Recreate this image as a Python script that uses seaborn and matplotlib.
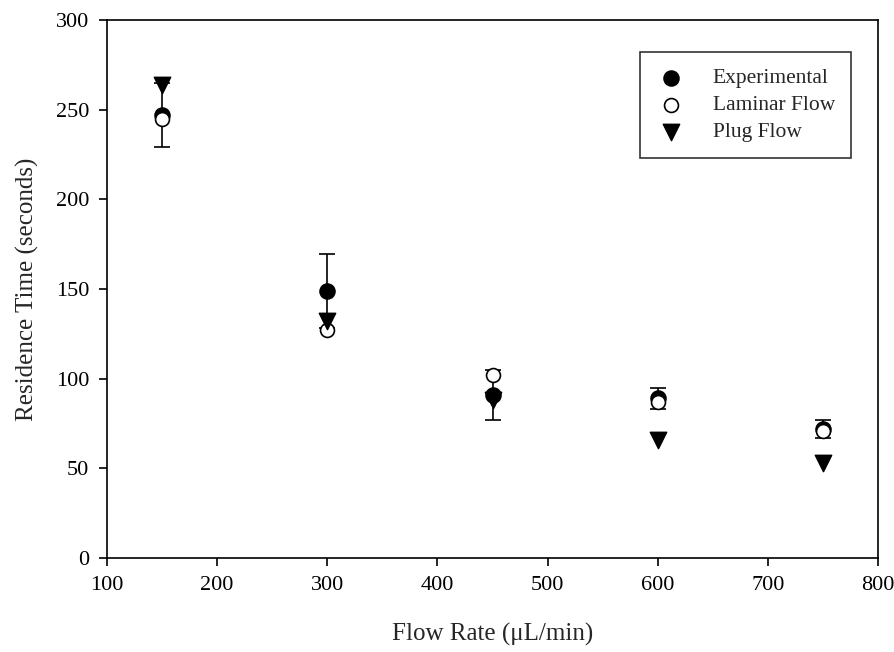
import numpy as np
import pandas as pd
import matplotlib
matplotlib.use('Agg')
import matplotlib.pyplot as plt
import seaborn as sns

# Data
flow_rate = [150, 300, 450, 600, 750]
experimental = [247, 149, 91, 89, 72]
experimental_err = [18, 20.5, 14, 6, 5]
laminar = [245, 127, 102, 87, 71]
plug = [264, 132, 88, 66, 52.8]

sns.set_style('ticks')
plt.rcParams['font.family'] = ['Liberation Serif', 'DejaVu Serif']

fig = plt.figure(figsize=(8.95, 6.52), dpi=100)
ax = fig.add_axes([0.1196, 0.1442, 0.8614, 0.8251])

# Error bars for the experimental series
ax.errorbar(flow_rate, experimental, yerr=experimental_err, fmt='none',
            ecolor='black', elinewidth=1.2, capsize=6, capthick=1.2, zorder=1)

df = pd.DataFrame({'flow': flow_rate, 'exp': experimental,
                   'lam': laminar, 'plug': plug})

sns.scatterplot(data=df, x='flow', y='exp', ax=ax, marker='o', s=115,
                color='black', edgecolor='black', linewidth=1.2,
                label='Experimental', zorder=2)
sns.scatterplot(data=df, x='flow', y='lam', ax=ax, marker='o', s=100,
                facecolor='white', edgecolor='black', linewidth=1.2,
                label='Laminar Flow', zorder=3)
sns.scatterplot(data=df, x='flow', y='plug', ax=ax, marker='v', s=140,
                color='black', edgecolor='black', linewidth=1.0,
                label='Plug Flow', zorder=4)

ax.set_xlim(100, 800)
ax.set_ylim(0, 300)
ax.set_xticks(range(100, 801, 100))
ax.set_yticks(range(0, 301, 50))
ax.tick_params(axis='both', direction='out', length=6, width=1.2,
               labelsize=16, colors='black', pad=7)
for side in ['left', 'bottom', 'top', 'right']:
    ax.spines[side].set_visible(True)
    ax.spines[side].set_color('black')
    ax.spines[side].set_linewidth(1.2)
ax.tick_params(top=False, right=False)

ax.set_xlabel('Flow Rate (\u03bcL/min)', fontsize=18, labelpad=20)
ax.set_ylabel('Residence Time (seconds)', fontsize=18, labelpad=12)

leg = ax.legend(loc='upper right', bbox_to_anchor=(0.965, 0.9405), fontsize=15.5,
                frameon=True, fancybox=False, edgecolor='black',
                borderpad=0.75, handlelength=1.3, handletextpad=1.3,
                labelspacing=0.32, borderaxespad=0)
leg.get_frame().set_linewidth(1.2)

fig.savefig('out.png', dpi=100)
